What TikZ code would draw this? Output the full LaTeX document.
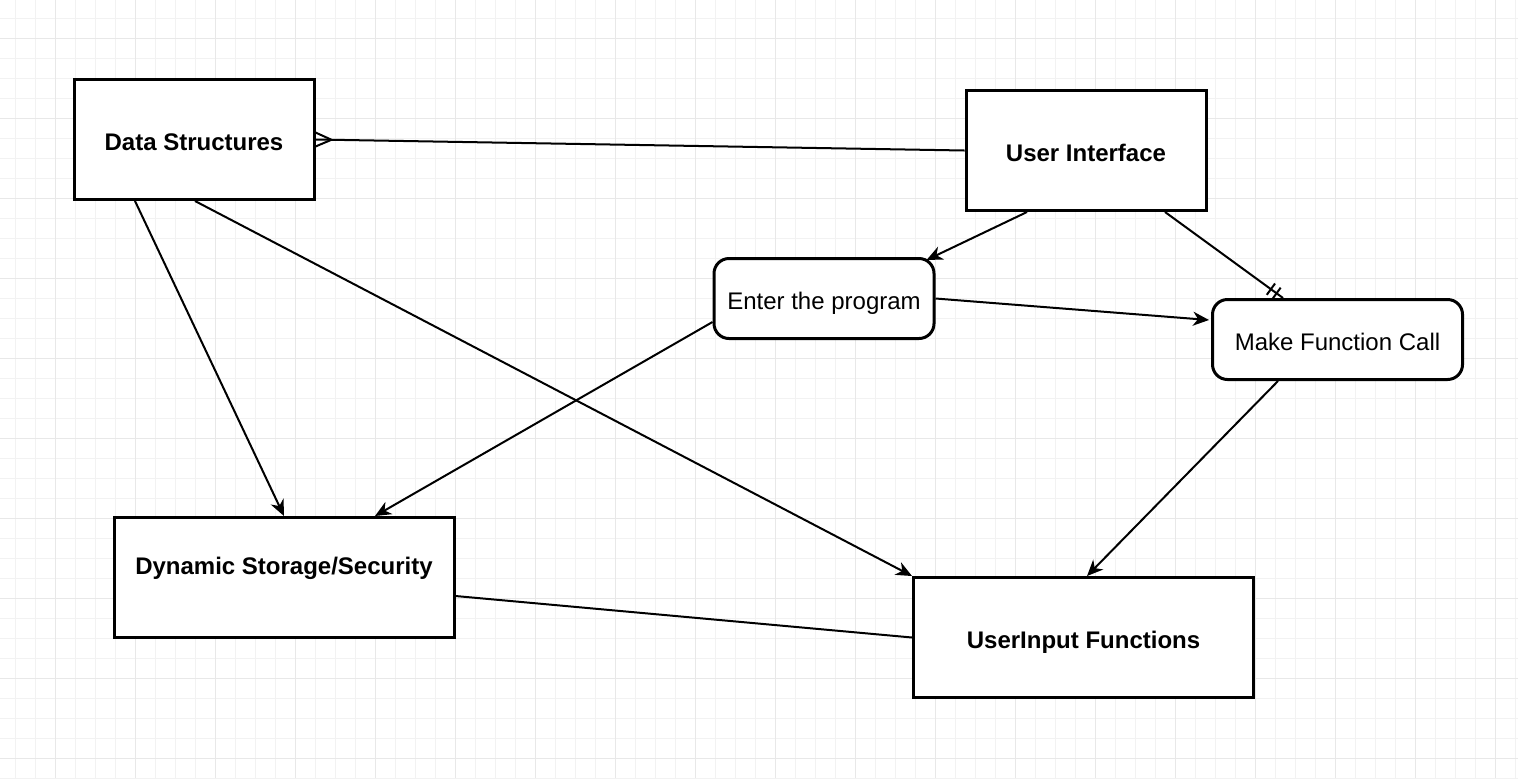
\documentclass[tikz,border=0pt]{standalone}
\usepackage{fontspec}
\setmainfont{Liberation Sans}
\usetikzlibrary{arrows.meta,calc}
\tikzset{
  minorgrid/.style={draw=black!5, line width=0.5pt},
  majorgrid/.style={draw=black!9, line width=0.5pt},
  txt/.style={text height=11pt, text depth=0pt},
  sqbox/.style={draw=black, line width=1.5pt, fill=white, minimum width=120pt, minimum height=60pt, inner sep=0pt, txt, font=\fontsize{12}{14}\selectfont\bfseries},
  rbox/.style={draw=black, line width=1.5pt, fill=white, rounded corners=7.5pt, minimum height=40pt, inner sep=0pt, txt, font=\fontsize{12}{14}\selectfont},
  conn/.style={draw=black, line width=1pt},
  arr/.style={conn, -{Stealth[length=8pt,width=7pt,inset=2.5pt]}},
}
\begin{document}
\begin{tikzpicture}[x=0.5pt,y=-0.5pt]
\useasboundingbox (0,0) rectangle (1518,778);
\fill[white] (0,0) rectangle (1518,778);
\foreach \x in {15,35,...,1515} \draw[minorgrid] (\x,0) -- (\x,778);
\foreach \y in {18,38,...,778} \draw[minorgrid] (0,\y) -- (1518,\y);
\foreach \x in {55,135,...,1515} \draw[majorgrid] (\x,0) -- (\x,778);
\foreach \y in {38,118,...,778} \draw[majorgrid] (0,\y) -- (1518,\y);

\node[sqbox] (ds) at (194,139.5) {Data Structures};
\node[sqbox] (ui) at (1086,150.5) {User Interface};
\node[rbox, minimum width=110pt] (ep) at (824,298.5) {Enter the program};
\node[rbox, minimum width=125pt] (mf) at (1337.5,339.5) {Make Function Call};
\node[sqbox, minimum width=170pt, label={[txt, font=\fontsize{12}{14}\selectfont\bfseries, yshift=7pt]center:Dynamic Storage/Security}] (dss) at (284,577.5) {};
\node[sqbox, minimum width=170pt] (uif) at (1083.5,637.5) {UserInput Functions};

% Data Structures -- User Interface (crow's foot at Data Structures)
\draw[conn] (ui.west) -- (ds.east);
\draw[conn] ([yshift=3.5pt]ds.east) -- ($(ds.east)!8pt!(ui.west)$) -- ([yshift=-3.5pt]ds.east);

% User Interface -> Enter the program
\draw[arr] ([xshift=-29.5pt]ui.south) -- ([xshift=-4.5pt,yshift=-1.5pt]ep.north east);

% User Interface -- Make Function Call (one mandatory)
\coordinate (uiA) at ([xshift=39.5pt]ui.south);
\coordinate (mfA) at ([xshift=-27.25pt]mf.north);
\draw[conn] (uiA) -- (mfA);
\coordinate (b1) at ($(mfA)!4pt!(uiA)$);
\coordinate (b2) at ($(mfA)!7.5pt!(uiA)$);
\draw[conn] ($(b1)!3.5pt!90:(uiA)$) -- ($(b1)!3.5pt!-90:(uiA)$);
\draw[conn] ($(b2)!3.5pt!90:(uiA)$) -- ($(b2)!3.5pt!-90:(uiA)$);

% Enter the program -> Make Function Call
\draw[arr] (ep.east) -- ([xshift=-1pt,yshift=9.75pt]mf.west);

% Enter the program -> Dynamic Storage
\draw[arr] ([yshift=-11.75pt]ep.west) -- ([xshift=45.5pt]dss.north);

% Make Function Call -> UserInput Functions
\draw[arr] ([xshift=-29.75pt]mf.south) -- ([xshift=1.75pt]uif.north);

% Data Structures -> Dynamic Storage
\draw[arr] ([xshift=-29.5pt]ds.south) -- (dss.north);

% Data Structures -> UserInput Functions
\draw[arr] ([xshift=0.5pt]ds.south) -- (uif.north west);

% Dynamic Storage -- UserInput Functions
\draw[conn] ([yshift=-9.25pt]dss.east) -- (uif.west);
\end{tikzpicture}
\end{document}
